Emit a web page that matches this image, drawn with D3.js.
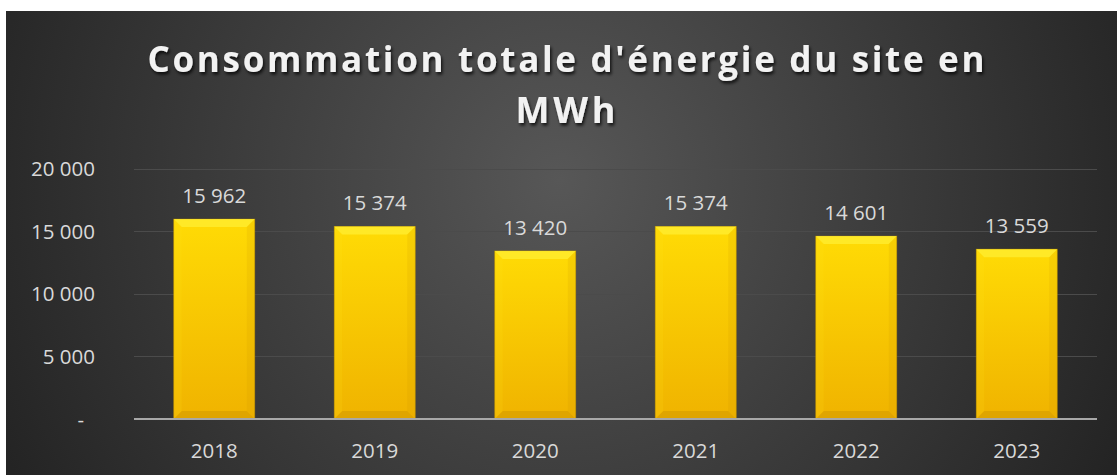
<!DOCTYPE html>
<html><head><meta charset="utf-8">
<script src="https://cdn.jsdelivr.net/npm/d3@7"></script>
<style>html,body{margin:0;padding:0;background:#fff;}svg{display:block;}</style>
</head><body>
<script>
const categories = ["2018","2019","2020","2021","2022","2023"];
const values = [15962,15374,13420,15374,14601,13559];
const yTicks = [0,5000,10000,15000,20000];
const yTickLabels = ["-","5 000","10 000","15 000","20 000"];
const titleLines = ["Consommation totale d'énergie du site en","MWh"];

const W=1117,H=475;
const svg=d3.select("body").append("svg").attr("width",W).attr("height",H);
const defs=svg.append("defs");
const bg=defs.append("radialGradient").attr("id","bg").attr("gradientUnits","userSpaceOnUse")
  .attr("cx",560).attr("cy",180).attr("r",620);
bg.append("stop").attr("offset","0").attr("stop-color","#575757");
bg.append("stop").attr("offset","1").attr("stop-color","#242424");
const bar=defs.append("linearGradient").attr("id","bar").attr("x1",0).attr("y1",0).attr("x2",0).attr("y2",1);
bar.append("stop").attr("offset","0").attr("stop-color","#FFDB05");
bar.append("stop").attr("offset","1").attr("stop-color","#F0B300");
const sh=defs.append("filter").attr("id","ts").attr("x","-10%").attr("y","-30%").attr("width","120%").attr("height","160%");
sh.append("feDropShadow").attr("dx",1.5).attr("dy",2.5).attr("stdDeviation",1.6).attr("flood-color","#000").attr("flood-opacity",0.75);

svg.append("rect").attr("x",6).attr("y",11).attr("width",W-6).attr("height",H-11).attr("fill","url(#bg)");

const x=d3.scaleBand().domain(categories).range([134,1097]).paddingInner(0.495).paddingOuter(0.2475);
const y=d3.scaleLinear().domain([0,20000]).range([419,168.5]);

// gridlines
svg.append("g").selectAll("line").data(yTicks.filter(d=>d>0)).join("line")
  .attr("x1",134).attr("x2",1097).attr("y1",d=>Math.round(y(d))+0.5).attr("y2",d=>Math.round(y(d))+0.5)
  .attr("stroke","#4b4b4b").attr("stroke-width",1);

// y axis labels via d3 axis
const yAxis=d3.axisLeft(y).tickValues(yTicks).tickSize(0).tickPadding(0)
  .tickFormat((d,i)=>yTickLabels[i]);
const ya=svg.append("g").attr("transform","translate(95,0)").call(yAxis);
ya.select(".domain").remove();
ya.selectAll("text").attr("fill","#d9d9d9").attr("font-family","'Open Sans'").attr("font-size","20.5px").attr("dy","0.35em")
  .attr("dx",d=>d===0?-11:0);

// bars
const g=svg.append("g");
categories.forEach((c,i)=>{
  const x0=x(c), w=x.bandwidth(), y0=y(values[i]), y1=y(0), bv=8;
  const gg=g.append("g");
  gg.append("rect").attr("x",x0).attr("y",y0).attr("width",w).attr("height",y1-y0).attr("fill","url(#bar)")
    .attr("stroke","#b88a00").attr("stroke-width",0.8).attr("stroke-opacity",0.6);
  gg.append("polygon").attr("points",`${x0},${y0} ${x0+w},${y0} ${x0+w-bv},${y0+bv} ${x0+bv},${y0+bv}`)
    .attr("fill","#FFEC30").attr("opacity",0.8);
  gg.append("polygon").attr("points",`${x0},${y0} ${x0+bv},${y0+bv} ${x0+bv},${y1-bv} ${x0},${y1}`)
    .attr("fill","#FFE21A").attr("opacity",0.15);
  gg.append("polygon").attr("points",`${x0+w},${y0} ${x0+w-bv},${y0+bv} ${x0+w-bv},${y1-bv} ${x0+w},${y1}`)
    .attr("fill","#C99500").attr("opacity",0.15);
  gg.append("polygon").attr("points",`${x0},${y1} ${x0+bv},${y1-bv} ${x0+w-bv},${y1-bv} ${x0+w},${y1}`)
    .attr("fill","#C99300").attr("opacity",0.45);
});

// baseline
svg.append("line").attr("x1",134).attr("x2",1097).attr("y1",y(0)).attr("y2",y(0))
  .attr("stroke","#a8a8a8").attr("stroke-width",2);

// data labels
svg.append("g").selectAll("text").data(values).join("text")
  .attr("x",(d,i)=>x(categories[i])+x.bandwidth()/2).attr("y",d=>y(d)-16)
  .attr("text-anchor","middle").attr("fill","#d9d9d9").attr("font-family","'Open Sans'").attr("font-size","20.5px")
  .text(d=>d3.format(",")(d).replace(/,/g," "));

// x axis labels
const xAxis=d3.axisBottom(x).tickSize(0).tickPadding(0);
const xa=svg.append("g").attr("transform",`translate(0,${y(0)})`).call(xAxis);
xa.select(".domain").remove();
xa.selectAll("text").attr("fill","#d9d9d9").attr("font-family","'Open Sans'").attr("font-size","20.5px").attr("dy",0).attr("y",39);

// title
const t=svg.append("g").attr("filter","url(#ts)");
const tl1=t.append("text").attr("x",566).attr("y",72).attr("text-anchor","middle").attr("fill","#f2f2f2")
  .attr("font-family","'Open Sans'").attr("font-weight","bold").attr("font-size","35px").text(titleLines[0]);
const len=tl1.node().getComputedTextLength();
const ls=(837-len)/(titleLines[0].length-1);
tl1.attr("letter-spacing",ls+"px").attr("x",566+ls/2);
t.append("text").attr("x",566+ls/2).attr("y",123).attr("text-anchor","middle").attr("fill","#f2f2f2")
  .attr("font-family","'Open Sans'").attr("font-weight","bold").attr("font-size","36px").attr("letter-spacing",(ls+1)+"px").text(titleLines[1]);
</script>
</body></html>
